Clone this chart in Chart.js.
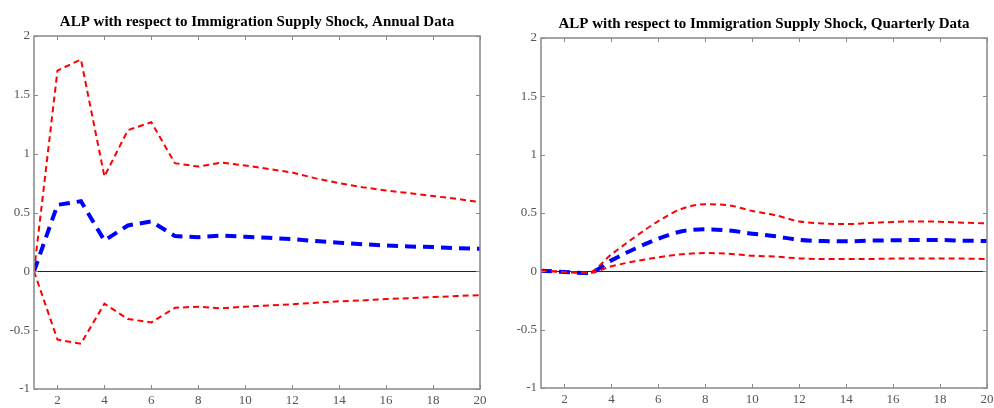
<!DOCTYPE html>
<html>
<head>
<meta charset="utf-8">
<script src="https://cdn.jsdelivr.net/npm/chart.js@4"></script>
<style>
  body { margin: 0; background: #fff; overflow: hidden; }
  .box { position: absolute; top: 0; width: 497px; height: 408px; }
</style>
</head>
<body>
<div class="box" style="left:0"><canvas id="annual" width="497" height="408"></canvas></div>
<div class="box" style="left:497px"><canvas id="quarterly" width="497" height="408"></canvas></div>
<script>
// horizon (periods after the shock)
const periods = [1, 2, 3, 4, 5, 6, 7, 8, 9, 10, 11, 12, 13, 14, 15, 16, 17, 18, 19, 20];
const xTicks = [2, 4, 6, 8, 10, 12, 14, 16, 18, 20];
const yTicks = [-1, -0.5, 0, 0.5, 1, 1.5, 2];

// annual data: impulse response and bands
const annualMean  = [0, 0.565, 0.596, 0.262, 0.39, 0.424, 0.30, 0.29, 0.305, 0.293, 0.285, 0.274, 0.257, 0.243, 0.23, 0.22, 0.211, 0.206, 0.197, 0.192];
const annualUpper = [0, 1.706, 1.80, 0.806, 1.20, 1.267, 0.919, 0.89, 0.924, 0.90, 0.87, 0.84, 0.79, 0.75, 0.715, 0.687, 0.664, 0.64, 0.616, 0.588];
const annualLower = [0, -0.58, -0.615, -0.275, -0.405, -0.434, -0.31, -0.30, -0.315, -0.30, -0.29, -0.28, -0.267, -0.255, -0.247, -0.236, -0.228, -0.219, -0.21, -0.202];

// quarterly data
const quarterlyMean  = [0.005, -0.005, -0.015, 0.094, 0.194, 0.28, 0.343, 0.36, 0.351, 0.323, 0.30, 0.27, 0.26, 0.257, 0.263, 0.266, 0.268, 0.268, 0.263, 0.26];
const quarterlyUpper = [0.005, -0.005, -0.01, 0.146, 0.294, 0.431, 0.537, 0.574, 0.566, 0.517, 0.48, 0.428, 0.411, 0.405, 0.414, 0.423, 0.428, 0.425, 0.417, 0.411];
const quarterlyLower = [0.005, -0.005, -0.015, 0.043, 0.086, 0.12, 0.146, 0.157, 0.151, 0.134, 0.126, 0.111, 0.106, 0.106, 0.106, 0.109, 0.11, 0.11, 0.109, 0.106];

const serif = '"Liberation Serif", "DejaVu Serif", serif';

const framePlugin = {
    id: 'frame',
    beforeDatasetsDraw(chart) {
        const ctx = chart.ctx;
        const a = chart.chartArea;
        const y0 = Math.round(chart.scales.y.getPixelForValue(0)) + 0.5;
        ctx.save();
        ctx.strokeStyle = '#222';
        ctx.lineWidth = 1;
        ctx.beginPath();
        ctx.moveTo(a.left, y0);
        ctx.lineTo(a.right, y0);
        ctx.stroke();
        ctx.restore();
    },
    afterDraw(chart, args, opts) {
        const ctx = chart.ctx;
        const a = chart.chartArea;
        ctx.save();
        ctx.strokeStyle = '#888';
        ctx.lineWidth = 1.5;
        ctx.strokeRect(a.left, a.top, a.right - a.left, a.bottom - a.top);
        ctx.lineWidth = 1;
        ctx.beginPath();
        xTicks.forEach(v => {
            const x = Math.round(chart.scales.x.getPixelForValue(v)) + 0.5;
            ctx.moveTo(x, a.bottom); ctx.lineTo(x, a.bottom - 4);
            ctx.moveTo(x, a.top); ctx.lineTo(x, a.top + 4);
        });
        yTicks.forEach(v => {
            const y = Math.round(chart.scales.y.getPixelForValue(v)) + 0.5;
            ctx.moveTo(a.left, y); ctx.lineTo(a.left + 4, y);
            ctx.moveTo(a.right, y); ctx.lineTo(a.right - 4, y);
        });
        ctx.stroke();
        // title centred over the plot area
        ctx.fillStyle = '#000';
        ctx.font = 'bold 15px ' + serif;
        ctx.textAlign = 'center';
        ctx.textBaseline = 'middle';
        ctx.fillText(opts.text, (a.left + a.right) / 2, opts.y);
        ctx.restore();
    }
};

function series(values, color, width, dash) {
    return {
        data: periods.map((p, i) => ({ x: p, y: values[i] })),
        borderColor: color,
        borderWidth: width,
        borderDash: dash,
        pointRadius: 0,
        fill: false,
        tension: 0
    };
}

function makeChart(id, title, mean, upper, lower, pad, xh, yw, titleY, smooth) {
    const sets = [
        series(upper, '#ff0000', 2, [6, 4]),
        series(lower, '#ff0000', 2, [6, 4]),
        series(mean, '#0000ff', 4, [11, 7])
    ];
    if (smooth) sets.forEach(s => { s.tension = 0.4; s.cubicInterpolationMode = 'monotone'; });
    return new Chart(document.getElementById(id), {
        type: 'line',
        data: { datasets: sets },
        options: {
            responsive: false,
            animation: false,
            layout: { padding: pad },
            plugins: {
                legend: { display: false },
                tooltip: { enabled: false },
                frame: { text: title, y: titleY }
            },
            scales: {
                x: {
                    type: 'linear',
                    min: 1,
                    max: 20,
                    afterBuildTicks: s => { s.ticks = xTicks.map(v => ({ value: v })); },
                    afterFit: s => { s.height = xh; s.paddingLeft = 0; s.paddingRight = 0; },
                    grid: { display: false, drawTicks: false },
                    border: { display: false },
                    ticks: { color: '#555', font: { family: serif, size: 13 }, padding: 4, maxRotation: 0,
                             callback: v => String(v) }
                },
                y: {
                    min: -1,
                    max: 2,
                    afterBuildTicks: s => { s.ticks = yTicks.map(v => ({ value: v })); },
                    afterFit: s => { s.width = yw; s.paddingTop = 0; s.paddingBottom = 0; },
                    grid: { display: false, drawTicks: false },
                    border: { display: false },
                    ticks: { color: '#555', font: { family: serif, size: 13 }, padding: 4,
                             callback: v => String(v) }
                }
            }
        },
        plugins: [framePlugin]
    });
}

makeChart('annual', 'ALP with respect to Immigration Supply Shock, Annual Data',
    annualMean, annualUpper, annualLower,
    { top: 36, right: 17, bottom: 0, left: 0 }, 19, 34, 22, false);

makeChart('quarterly', 'ALP with respect to Immigration Supply Shock, Quarterly Data',
    quarterlyMean, quarterlyUpper, quarterlyLower,
    { top: 38, right: 7, bottom: 0, left: 0 }, 20, 44, 24, true);
</script>
</body>
</html>
